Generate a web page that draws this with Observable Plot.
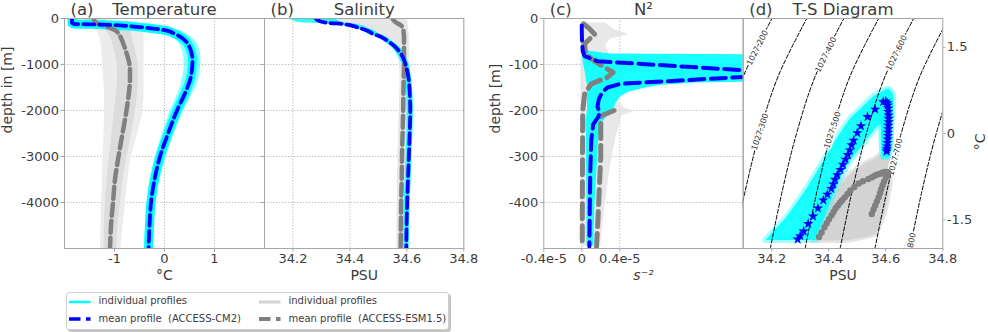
<!DOCTYPE html>
<html><head><meta charset="utf-8">
<script src="https://cdn.jsdelivr.net/npm/d3@7"></script>
<script src="https://cdn.jsdelivr.net/npm/@observablehq/plot@0.6"></script>
<style>
body{margin:0;background:#fff;font-family:"DejaVu Sans",sans-serif;}
#wrap{position:relative;width:988px;height:332px;overflow:hidden;background:#fff;}
#legend{position:absolute;left:66px;top:292px;width:381px;height:36px;border:1px solid #cfcfcf;border-radius:3px;box-shadow:2px 2px 0 #c4c4c4;background:#fff;font-family:"DejaVu Sans";font-size:10px;color:#3c3c3c;}
#legend .it{position:absolute;white-space:pre;line-height:12px;}
#legend svg{position:absolute;}
</style></head><body><div id="wrap"><div id="legend"></div></div>
<script>
// ---------------- data ----------------
// (a)/(b) depth levels [m]
const zTS = [0, -50, -100, -115, -135, -160, -200, -260, -330, -400, -500, -620, -750, -900, -1100, -1300, -1600, -2000, -2500, -3000, -3500, -4000, -4500, -5000];
// Temperature [°C]
const tempCm2Mean = [-1.85, -1.85, -1.85, -1.82, -1.2, -0.78, -0.38, 0.03, 0.2, 0.32, 0.43, 0.5, 0.54, 0.56, 0.55, 0.52, 0.42, 0.25, 0.07, -0.09, -0.2, -0.27, -0.3, -0.32];
const tempCm2Lo = [-1.9, -1.9, -1.9, -1.9, -1.75, -1.3, -0.8, -0.3, -0.02, 0.13, 0.26, 0.33, 0.37, 0.39, 0.39, 0.36, 0.28, 0.12, -0.04, -0.18, -0.29, -0.35, -0.38, -0.4];
const tempCm2Hi = [-1.75, -1.72, -1.55, -1.1, -0.6, -0.25, 0.05, 0.3, 0.43, 0.53, 0.63, 0.69, 0.72, 0.73, 0.72, 0.69, 0.58, 0.39, 0.2, 0.04, -0.09, -0.17, -0.21, -0.23];
const tempEsmMean = [-1.42, -1.4, -1.37, -1.33, -1.27, -1.2, -1.1, -0.98, -0.92, -0.88, -0.84, -0.8, -0.76, -0.72, -0.69, -0.69, -0.71, -0.76, -0.84, -0.92, -0.99, -1.03, -1.07, -1.09];
const tempEsmLo = [-1.75, -1.8, -1.82, -1.82, -1.8, -1.7, -1.5, -1.38, -1.32, -1.3, -1.28, -1.26, -1.25, -1.24, -1.23, -1.22, -1.2, -1.2, -1.21, -1.23, -1.24, -1.26, -1.27, -1.28];
const tempEsmHi = [-1.0, -0.85, -0.6, -0.5, -0.45, -0.42, -0.41, -0.41, -0.41, -0.41, -0.41, -0.41, -0.41, -0.41, -0.41, -0.41, -0.41, -0.43, -0.54, -0.66, -0.73, -0.78, -0.83, -0.87];
const tempEsmCoreLo = [-1.6, -1.6, -1.6, -1.58, -1.5, -1.42, -1.3, -1.18, -1.12, -1.08, -1.05, -1.02, -0.99, -0.96, -0.94, -0.94, -0.96, -1.0, -1.05, -1.1, -1.15, -1.18, -1.2, -1.21];
const tempEsmCoreHi = [-1.2, -1.15, -1.05, -0.95, -0.85, -0.78, -0.72, -0.68, -0.66, -0.65, -0.63, -0.6, -0.57, -0.54, -0.52, -0.52, -0.54, -0.58, -0.66, -0.75, -0.83, -0.88, -0.93, -0.96];
// Salinity [PSU]
const salCm2Mean = [34.28, 34.29, 34.33, 34.37, 34.39, 34.41, 34.43, 34.46, 34.48, 34.51, 34.535, 34.56, 34.577, 34.59, 34.6, 34.606, 34.61, 34.612, 34.61, 34.607, 34.604, 34.601, 34.599, 34.598];
const salCm2Lo = [34.19, 34.2, 34.24, 34.3, 34.35, 34.38, 34.405, 34.44, 34.462, 34.493, 34.52, 34.545, 34.563, 34.577, 34.588, 34.595, 34.599, 34.601, 34.6, 34.597, 34.594, 34.591, 34.589, 34.588];
const salCm2Hi = [34.35, 34.36, 34.38, 34.41, 34.43, 34.445, 34.46, 34.485, 34.502, 34.528, 34.55, 34.575, 34.591, 34.603, 34.612, 34.617, 34.621, 34.623, 34.621, 34.618, 34.615, 34.612, 34.61, 34.608];
const salEsmMean = [34.55, 34.555, 34.565, 34.57, 34.576, 34.581, 34.585, 34.588, 34.589, 34.59, 34.59, 34.59, 34.59, 34.59, 34.59, 34.589, 34.588, 34.587, 34.585, 34.583, 34.582, 34.58, 34.579, 34.578];
const salEsmLo = [34.3, 34.31, 34.34, 34.36, 34.38, 34.4, 34.42, 34.45, 34.47, 34.5, 34.525, 34.548, 34.563, 34.572, 34.575, 34.576, 34.575, 34.573, 34.571, 34.569, 34.567, 34.566, 34.565, 34.565];
const salEsmHi = [34.6, 34.6, 34.602, 34.603, 34.604, 34.605, 34.606, 34.607, 34.608, 34.608, 34.609, 34.61, 34.61, 34.61, 34.61, 34.608, 34.605, 34.603, 34.6, 34.597, 34.594, 34.592, 34.59, 34.588];

// (c) N² in units of 1e-5 s^-2
const zN2Cm2 = [-15, -30, -50, -70, -82, -93, -120, -142, -150, -162, -175, -192, -205, -215, -230, -265, -330, -400, -495];
const n2Cm2Mean = [0.0, 0.0, 0.003, 0.01, 0.03, 0.17, 2.3, 0.41, 0.27, 0.21, 0.18, 0.165, 0.19, 0.17, 0.12, 0.1, 0.09, 0.085, 0.08];
const zN2Band = [-15, -40, -70, -77, -80, -100, -120, -136, -140, -145, -150, -160, -170, -185, -200, -215, -230, -260, -330, -400, -495];
const n2Cm2Lo = [-0.005, -0.005, 0.0, 0.0, 0.005, 0.02, 0.04, 0.05, 0.055, 0.06, 0.06, 0.06, 0.06, 0.06, 0.06, 0.05, 0.045, 0.05, 0.05, 0.055, 0.055];
const n2Cm2Hi = [0.02, 0.02, 0.04, 0.3, 2.5, 2.5, 2.5, 2.5, 1.2, 0.85, 0.7, 0.5, 0.41, 0.36, 0.33, 0.26, 0.2, 0.18, 0.16, 0.14, 0.125];
const zN2EsmA = [-12, -22, -35, -45, -55, -77, -95, -106, -117, -128, -142, -164, -200, -300, -400, -495];
const n2EsmMeanA = [0.02, 0.08, 0.14, 0.08, 0.03, 0.04, 0.15, 0.24, 0.33, 0.27, 0.1, 0.03, 0.01, 0.008, 0.006, 0.005];
const zN2EsmB = [-200, -212, -236, -300, -367, -439, -497];
const n2EsmMeanB = [0.34, 0.2, 0.2, 0.2, 0.185, 0.17, 0.155];
const zN2Grey = [-10, -25, -35, -45, -60, -80, -100, -120, -140, -160, -180, -195, -202, -212, -230, -260, -300, -350, -400, -450, -495];
const n2EsmLo = [-0.01, -0.01, -0.01, -0.01, -0.01, -0.01, -0.01, -0.01, -0.01, -0.01, -0.01, -0.01, -0.01, -0.01, -0.01, -0.01, -0.01, -0.01, -0.01, -0.01, -0.01];
const n2EsmHi = [0.25, 0.35, 0.5, 0.3, 0.25, 0.3, 0.4, 0.45, 0.4, 0.38, 0.38, 0.45, 0.55, 0.42, 0.4, 0.36, 0.32, 0.28, 0.25, 0.22, 0.2];

// (d) T-S diagram
const tsCm2S = [34.291, 34.300, 34.312, 34.328, 34.345, 34.362, 34.381, 34.395, 34.409, 34.416, 34.422, 34.430, 34.441, 34.450, 34.459, 34.467, 34.474, 34.480, 34.487, 34.500, 34.513, 34.536, 34.563, 34.591, 34.600, 34.605, 34.607, 34.609, 34.609, 34.610, 34.610, 34.610, 34.609, 34.609, 34.608, 34.608, 34.607, 34.606, 34.605, 34.604, 34.603];
const tsCm2T = [-1.84, -1.78, -1.70, -1.57, -1.44, -1.30, -1.16, -1.06, -0.96, -0.88, -0.80, -0.72, -0.63, -0.54, -0.45, -0.37, -0.29, -0.20, -0.12, 0.01, 0.13, 0.29, 0.42, 0.55, 0.56, 0.53, 0.49, 0.44, 0.38, 0.32, 0.26, 0.20, 0.14, 0.08, 0.02, -0.04, -0.10, -0.16, -0.22, -0.27, -0.31];
const tsEsmS = [34.366, 34.375, 34.385, 34.393, 34.401, 34.410, 34.417, 34.424, 34.432, 34.440, 34.447, 34.456, 34.466, 34.476, 34.490, 34.505, 34.520, 34.539, 34.552, 34.563, 34.572, 34.580, 34.588, 34.597, 34.605, 34.609, 34.605, 34.600, 34.594, 34.589, 34.584, 34.580, 34.575, 34.569, 34.563, 34.557, 34.551];
const tsEsmT = [-1.80, -1.72, -1.63, -1.56, -1.49, -1.42, -1.36, -1.30, -1.25, -1.20, -1.16, -1.11, -1.05, -0.99, -0.93, -0.87, -0.83, -0.79, -0.76, -0.73, -0.71, -0.70, -0.68, -0.67, -0.67, -0.68, -0.72, -0.77, -0.84, -0.90, -0.97, -1.04, -1.11, -1.18, -1.25, -1.32, -1.40];
const tsCyanT = [-1.86, -1.69, -1.51, -1.28, -0.99, -0.76, -0.47, -0.23, 0.0, 0.15, 0.25, 0.41, 0.58, 0.67, 0.73, 0.77];
const tsCyanLo = [34.18, 34.21, 34.245, 34.28, 34.32, 34.349, 34.384, 34.412, 34.441, 34.462, 34.476, 34.51, 34.545, 34.568, 34.59, 34.605];
const tsCyanHi = [34.355, 34.366, 34.383, 34.40, 34.424, 34.445, 34.478, 34.516, 34.552, 34.58, 34.622, 34.627, 34.628, 34.627, 34.62, 34.612];
const tsCyanVT = [-0.42, -0.35, -0.2, 0.0, 0.2, 0.3];
const tsCyanVLo = [34.592, 34.588, 34.586, 34.585, 34.585, 34.585];
const tsCyanVHi = [34.612, 34.617, 34.62, 34.622, 34.623, 34.623];
const tsGreyT = [-1.87, -1.75, -1.6, -1.4, -1.2, -1.0, -0.85, -0.7, -0.55, -0.45, -0.38];
const tsGreyLo = [34.345, 34.352, 34.365, 34.385, 34.405, 34.43, 34.45, 34.48, 34.52, 34.56, 34.58];
const tsGreyHi = [34.46, 34.565, 34.58, 34.596, 34.606, 34.613, 34.617, 34.618, 34.617, 34.615, 34.61];
// density contours: salinity at each contour temperature
const contourT = [-2, -1, 0, 1, 2];
const rho1027_2 = [33.943, 33.985, 34.035, 34.101, 34.201];
const rho1027_3 = [34.065, 34.107, 34.157, 34.223, 34.323];
const rho1027_4 = [34.195, 34.237, 34.287, 34.353, 34.453];
const rho1027_5 = [34.317, 34.359, 34.409, 34.475, 34.575];
const rho1027_6 = [34.44, 34.482, 34.532, 34.598, 34.698];
const rho1027_7 = [34.562, 34.604, 34.654, 34.72, 34.82];
const rho1027_8 = [34.685, 34.727, 34.777, 34.843, 34.943];
const contourLabels = ["1027.200", "1027.300", "1027.400", "1027.500", "1027.600", "1027.700", "1027.800"];
const contourLabelT = [1.49, 0.03, 1.37, 0.06, 1.40, -0.41, -2.05];

// axis ticks
const tempTicks = [-1, 0, 1];
const depthTicksA = [0, -1000, -2000, -3000, -4000];
const salTicks = [34.2, 34.4, 34.6, 34.8];
const n2Ticks = [-0.4, 0, 0.4];
const depthTicksC = [0, -100, -200, -300, -400];
const tsTempTicks = [-1.5, 0, 1.5];

// ---------------- build ----------------
const CYAN = "#00ffff", BLUE = "#0000ff", GREY = "#808080", LGREY = "#d3d3d3";
const TXT = "#3c3c3c", FRAME = "#a6a6a6", GRID = "#b5b5b5";
const wrap = document.getElementById("wrap");
const style = {fontFamily: "DejaVu Sans", fontSize: "13px", color: TXT, background: "transparent", overflow: "visible"};
const fmt = d => String(d);

const prof = zTS.map((z, i) => ({z,
  tC: tempCm2Mean[i], tClo: tempCm2Lo[i], tChi: tempCm2Hi[i],
  tE: tempEsmMean[i], tElo: tempEsmLo[i], tEhi: tempEsmHi[i], tEclo: tempEsmCoreLo[i], tEchi: tempEsmCoreHi[i],
  sC: salCm2Mean[i], sClo: salCm2Lo[i], sChi: salCm2Hi[i],
  sE: salEsmMean[i], sElo: salEsmLo[i], sEhi: salEsmHi[i]}));

function place(svg, left) {
  svg.style.position = "absolute"; svg.style.left = left + "px"; svg.style.top = "0px";
  wrap.appendChild(svg);
}
const grid = (ticks, dir) => (dir === "x" ? Plot.gridX : Plot.gridY)(ticks, {stroke: GRID, strokeOpacity: 1, strokeDasharray: "1.3,1.7", strokeWidth: 0.9});
const title = (t, letter) => [
  Plot.text([t], {text: d => d, frameAnchor: "top", lineAnchor: "middle", dy: -8.4, fontSize: 16.5, fill: TXT}),
  Plot.text([letter], {text: d => d, frameAnchor: "top-left", lineAnchor: "middle", dx: 6, dy: -8.4, textAnchor: "start", fontSize: 16.5, fill: TXT})
];
const xlab = (t, extra = {}) => Plot.text([t], {text: d => d, frameAnchor: "bottom", lineAnchor: "middle", dy: 27, fontSize: 14, fill: TXT, ...extra});

// panel (a)
place(Plot.plot({
  width: 284, height: 290, marginLeft: 64, marginRight: 20, marginTop: 18, marginBottom: 42, style,
  x: {domain: [-2, 2]}, y: {domain: [-5000, 0]},
  marks: [
    grid(tempTicks, "x"), grid(depthTicksA.slice(1), "y"),
    Plot.areaX(prof, {y: "z", x1: "tElo", x2: "tEhi", fill: "#ececec", curve: "monotone-y", clip: true}),
    Plot.areaX(prof, {y: "z", x1: "tEclo", x2: "tEchi", fill: "#dcdcdc", curve: "monotone-y", clip: true}),
    Plot.areaX(prof, {y: "z", x1: "tClo", x2: "tChi", fill: CYAN, fillOpacity: 0.45, curve: "monotone-y", clip: true}),
    Plot.lineX(prof, {y: "z", x: "tC", stroke: CYAN, strokeWidth: 9, curve: "monotone-y", clip: true}),
    Plot.lineX(prof, {y: "z", x: "tE", stroke: GREY, strokeWidth: 4.5, strokeDasharray: "12,5", curve: "monotone-y", clip: true}),
    Plot.lineX(prof, {y: "z", x: "tC", stroke: BLUE, strokeWidth: 3.8, strokeDasharray: "11,5", curve: "monotone-y", clip: true}),
    Plot.axisX({ticks: tempTicks, tickFormat: fmt, tickSize: 3.5, tickPadding: 2, stroke: FRAME, fill: TXT, label: null, fontSize: 13}),
    Plot.axisY({ticks: depthTicksA, tickFormat: fmt, tickSize: 3.5, tickPadding: 2, stroke: FRAME, fill: TXT, label: null, fontSize: 13}),
    Plot.frame({stroke: FRAME}),
    xlab("°C"),
    Plot.text(["depth in [m]"], {text: d => d, frameAnchor: "left", dx: -57, rotate: -90, fontSize: 14, fill: TXT}),
    ...title("Temperature", "(a)")
  ]
}), 0);

// panel (b)
place(Plot.plot({
  width: 243.3, height: 290, marginLeft: 24, marginRight: 20, marginTop: 18, marginBottom: 42, style,
  x: {domain: [34.1, 34.8]}, y: {domain: [-5000, 0]},
  marks: [
    grid(salTicks, "x"), grid(depthTicksA.slice(1), "y"),
    Plot.areaX(prof, {y: "z", x1: "sElo", x2: "sEhi", fill: "#e6e6e6", curve: "monotone-y", clip: true}),
    Plot.areaX(prof, {y: "z", x1: "sClo", x2: "sChi", fill: CYAN, fillOpacity: 0.85, curve: "monotone-y", clip: true}),
    Plot.lineX(prof, {y: "z", x: "sE", stroke: GREY, strokeWidth: 4.5, strokeDasharray: "12,5", curve: "monotone-y", clip: true}),
    Plot.lineX(prof, {y: "z", x: "sC", stroke: BLUE, strokeWidth: 3.8, strokeDasharray: "11,5", curve: "monotone-y", clip: true}),
    Plot.axisX({ticks: salTicks, tickFormat: d => d.toFixed(1), tickSize: 3.5, tickPadding: 2, stroke: FRAME, fill: TXT, label: null, fontSize: 13}),
    Plot.axisY({ticks: depthTicksA, tickFormat: () => "", tickSize: 3.5, stroke: FRAME, label: null}),
    Plot.frame({stroke: FRAME}),
    xlab("PSU"),
    ...title("Salinity", "(b)")
  ]
}), 240);

// panel (c)
const n2Band = zN2Band.map((z, i) => ({z, lo: n2Cm2Lo[i], hi: n2Cm2Hi[i]}));
const n2Grey = zN2Grey.map((z, i) => ({z, lo: n2EsmLo[i], hi: n2EsmHi[i]}));
const n2C = zN2Cm2.map((z, i) => ({z, v: n2Cm2Mean[i]}));
const n2EA = zN2EsmA.map((z, i) => ({z, v: n2EsmMeanA[i]}));
const n2EB = zN2EsmB.map((z, i) => ({z, v: n2EsmMeanB[i]}));
place(Plot.plot({
  width: 292.7, height: 290, marginLeft: 73.3, marginRight: 20, marginTop: 18, marginBottom: 42, style,
  x: {domain: [-0.4, 1.7]}, y: {domain: [-500, 0]},
  marks: [
    grid([0, 0.4], "x"), grid(depthTicksC.slice(1), "y"),
    Plot.areaX(n2Grey, {y: "z", x1: "lo", x2: "hi", fill: "#e0e0e0", fillOpacity: 0.75, clip: true}),
    Plot.areaX(n2Band, {y: "z", x1: "lo", x2: "hi", fill: CYAN, fillOpacity: 0.9, clip: true}),
    Plot.lineX(n2EA, {y: "z", x: "v", stroke: GREY, strokeWidth: 5, strokeDasharray: "15,7", clip: true}),
    Plot.lineX(n2EB, {y: "z", x: "v", stroke: GREY, strokeWidth: 5, strokeDasharray: "15,7", clip: true}),
    Plot.lineX(n2C, {y: "z", x: "v", stroke: BLUE, strokeWidth: 4, strokeDasharray: "15,6.5", clip: true}),
    Plot.axisX({ticks: n2Ticks, tickFormat: d => d === 0 ? "0" : (d < 0 ? "-" : "") + Math.abs(d) + "e-5", tickSize: 3.5, tickPadding: 2, stroke: FRAME, fill: TXT, label: null, fontSize: 13}),
    Plot.axisY({ticks: depthTicksC, tickFormat: fmt, tickSize: 3.5, tickPadding: 2, stroke: FRAME, fill: TXT, label: null, fontSize: 13}),
    Plot.frame({stroke: FRAME}),
    xlab("s⁻²", {fontStyle: "italic"}),
    Plot.text(["depth [m]"], {text: d => d, frameAnchor: "left", dx: -48, rotate: -90, fontSize: 14, fill: TXT}),
    ...title("N²", "(c)")
  ]
}), 470);

// panel (d)
const dW = 199.6, dH = 230, dxS = dW / 0.7, dyT = dH / 4;
const rhoLines = [rho1027_2, rho1027_3, rho1027_4, rho1027_5, rho1027_6, rho1027_7, rho1027_8];
const contours = rhoLines.flatMap((arr, k) => contourT.map((t, i) => ({k, S: arr[i], T: t})));
const labels = rhoLines.map((arr, k) => {
  const t = contourLabelT[k];
  let i = Math.max(0, Math.min(contourT.length - 2, Math.floor(t - contourT[0])));
  const slope = (arr[i + 1] - arr[i]) / (contourT[i + 1] - contourT[i]);
  const S = arr[i] + slope * (t - contourT[i]);
  const angle = -Math.atan2(dyT, slope * dxS) * 180 / Math.PI;
  return {S, T: t, label: contourLabels[k], angle};
});
const cyanCloud = tsCyanT.map((t, i) => ({T: t, lo: tsCyanLo[i], hi: tsCyanHi[i]}));
const cyanCloudV = tsCyanVT.map((t, i) => ({T: t, lo: tsCyanVLo[i], hi: tsCyanVHi[i]}));
const greyCloud = tsGreyT.map((t, i) => ({T: t, lo: tsGreyLo[i], hi: tsGreyHi[i]}));
const tsC = tsCm2S.map((s, i) => ({S: s, T: tsCm2T[i]}));
const tsE = tsEsmS.map((s, i) => ({S: s, T: tsEsmT[i]}));
place(Plot.plot({
  width: 268, height: 290, marginLeft: 22.7, marginRight: 45.7, marginTop: 18, marginBottom: 42, style,
  x: {domain: [34.1, 34.8]}, y: {domain: [-2, 2]},
  marks: [
    Plot.areaX(greyCloud, {y: "T", x1: "lo", x2: "hi", fill: LGREY, stroke: LGREY, strokeWidth: 5, strokeOpacity: 0.6, curve: "monotone-y", clip: true}),
    Plot.areaX(cyanCloud, {y: "T", x1: "lo", x2: "hi", fill: CYAN, fillOpacity: 0.9, stroke: CYAN, strokeWidth: 6, strokeOpacity: 0.35, curve: "monotone-y", clip: true}),
    Plot.areaX(cyanCloudV, {y: "T", x1: "lo", x2: "hi", fill: CYAN, stroke: CYAN, strokeWidth: 5, strokeOpacity: 0.5, curve: "monotone-y", clip: true}),
    Plot.line(contours, {x: "S", y: "T", z: "k", stroke: "black", strokeWidth: 1, strokeDasharray: "4,2", curve: "catmull-rom", clip: true}),
    Plot.text(labels, {x: "S", y: "T", text: "label", rotate: "angle", fontSize: 8, fill: "#333", stroke: "white", strokeWidth: 3, clip: true}),
    Plot.dot(tsE, {x: "S", y: "T", r: 3.2, fill: GREY, clip: true}),
    Plot.dot(tsC, {x: "S", y: "T", r: 3.3, symbol: "star", fill: BLUE, clip: true}),
    Plot.axisX({ticks: salTicks, tickFormat: d => d.toFixed(1), tickSize: 3.5, tickPadding: 2, stroke: FRAME, fill: TXT, label: null, fontSize: 13}),
    Plot.axisY({anchor: "right", ticks: tsTempTicks, tickFormat: fmt, tickSize: 2, tickPadding: 2, stroke: FRAME, fill: TXT, label: null, fontSize: 13}),
    Plot.frame({stroke: FRAME}),
    xlab("PSU"),
    Plot.text(["°C"], {text: d => d, frameAnchor: "right", dx: 37.7, rotate: -90, fontSize: 14, fill: TXT}),
    ...title("T-S Diagram", "(d)")
  ]
}), 720);

// legend
const legendItems = [
  {label: "individual profiles", color: CYAN, w: 2.5, dash: null, col: 0, row: 0},
  {label: "mean profile  (ACCESS-CM2)", color: BLUE, w: 3.5, dash: "11.5,5.5", col: 0, row: 1},
  {label: "individual profiles", color: LGREY, w: 3, dash: null, col: 1, row: 0},
  {label: "mean profile  (ACCESS-ESM1.5)", color: GREY, w: 4, dash: "11.5,5.5", col: 1, row: 1}
];
const leg = document.getElementById("legend");
const colX = [2, 192], rowY = [8.5, 26];
for (const it of legendItems) {
  const sw = document.createElementNS("http://www.w3.org/2000/svg", "svg");
  sw.setAttribute("width", 24); sw.setAttribute("height", 8);
  sw.style.left = colX[it.col] + "px"; sw.style.top = (rowY[it.row] - 4) + "px";
  const ln = document.createElementNS("http://www.w3.org/2000/svg", "line");
  ln.setAttribute("x1", 0); ln.setAttribute("x2", 21.5); ln.setAttribute("y1", 4); ln.setAttribute("y2", 4);
  ln.setAttribute("stroke", it.color); ln.setAttribute("stroke-width", it.w);
  if (it.dash) ln.setAttribute("stroke-dasharray", it.dash);
  sw.appendChild(ln); leg.appendChild(sw);
  const tx = document.createElement("div");
  tx.className = "it"; tx.textContent = it.label;
  tx.style.left = (colX[it.col] + 29.5) + "px"; tx.style.top = (rowY[it.row] - 6.5) + "px";
  leg.appendChild(tx);
}
</script></body></html>
